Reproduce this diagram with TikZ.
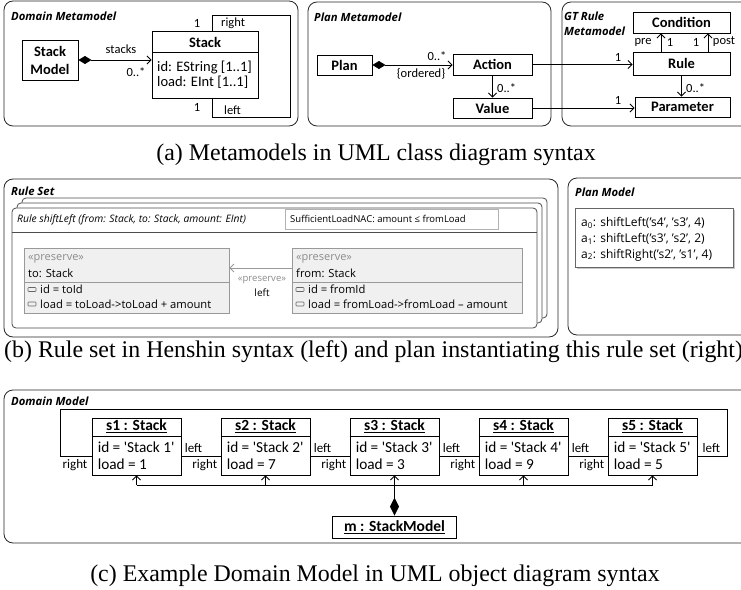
\documentclass[tikz,border=0pt]{standalone}
\usepackage{fontspec}
\setmainfont{Liberation Serif}
\newfontfamily\calfont{Carlito}
\newfontfamily\segfont{Open Sans}
\usetikzlibrary{arrows.meta,calc}

\tikzset{
  fr/.style={draw=black!85, line width=0.8pt, rounded corners=9pt},
  cls/.style={draw=black, line width=0.9pt, fill=white, inner sep=0pt},
  chead/.style={font=\calfont\bfseries\fontsize{14.5}{18}\selectfont},
  cattr/.style={font=\calfont\fontsize{14.5}{16}\selectfont, anchor=west, inner sep=0pt},
  tg/.style={font=\calfont\fontsize{12.5}{14}\selectfont, inner sep=0pt},
  otg/.style={font=\calfont\fontsize{13}{15}\selectfont, inner sep=3pt},
  ohead/.style={font=\calfont\bfseries\fontsize{15.5}{17}\selectfont},
  oattr/.style={font=\calfont\fontsize{15.3}{17}\selectfont, anchor=west, inner sep=0pt},
  ttl/.style={font=\segfont\bfseries\itshape\fontsize{11.3}{13}\selectfont, anchor=west, inner sep=0pt},
  assoc/.style={line width=0.8pt, -{Straight Barb[length=4pt,width=8pt]}},
  comp/.style={line width=0.8pt, {Diamond[length=13pt,width=8pt]}-{Straight Barb[length=4pt,width=8pt]}},
  capt/.style={font=\fontsize{23.9}{26}\selectfont, inner sep=0pt},
  rf/.style={draw=black!70, fill=white, rounded corners=4pt, line width=0.8pt},
  hobj/.style={draw=black!40, fill=black!6, line width=0.8pt, inner sep=0pt},
  htxt/.style={font=\segfont\fontsize{11.2}{13}\selectfont, anchor=west, inner sep=0pt},
  hster/.style={font=\segfont\fontsize{11}{13}\selectfont, text=black!45, anchor=west, inner sep=0pt},
  esmall/.style={font=\segfont\fontsize{9.5}{11}\selectfont, inner sep=0pt},
}

\begin{document}
\begin{tikzpicture}[x=1pt,y=-1pt]
\useasboundingbox (0,0) rectangle (741,589);
\clip (0,0) rectangle (741,589);

% ---------- (a) metamodels ----------
\draw[fr] (4,1) rectangle (298,126);
\node[ttl] at (11,16) {Domain Metamodel};
\node[cls, minimum width=56pt, minimum height=40pt, chead, align=center] (sm) at (50,60) {Stack\\Model};
\node[cls, minimum width=106pt, minimum height=67pt] (stack) at (205,64.5) {};
\draw[line width=0.9pt] (152,52) -- (258,52);
\node[chead] at (205,42) {Stack};
\node[cattr] at (157,68) {id: EString [1..1]};
\node[cattr] at (157,82) {load: EInt [1..1]};
\coordinate (lp) at (212,0);
\draw[line width=0.8pt] (stack.north -| lp) |- (290,15) -- (290,117) -| (stack.south -| lp);
\node[tg] at (197,23) {1};
\node[tg, anchor=west] at (221,23) {right};
\node[tg] at (197,107) {1};
\node[tg, anchor=west] at (224,110) {left};
\draw[comp] (sm.east) -- (sm.east -| stack.west);
\node[tg] at (121,49) {stacks};
\node[tg] at (136,72) {0..*};

\draw[fr] (308,2) rectangle (551,126);
\node[ttl] at (314,17) {Plan Metamodel};
\node[cls, minimum width=55pt, minimum height=20pt, chead] (plan) at (344.5,65) {Plan};
\node[cls, minimum width=79pt, minimum height=21pt, chead] (action) at (492.5,64.5) {Action};
\node[cls, minimum width=79pt, minimum height=20pt, chead] (value) at (492.5,108) {Value};
\draw[comp] (plan.east) -- (plan.east -| action.west);
\node[tg] at (437,56) {0..*};
\node[tg] at (421,74) {\{ordered\}};
\draw[assoc] (action.south) -- (value.north);
\node[tg, anchor=west] at (497,88) {0..*};

\draw[fr] (562,2) rectangle (760,126);
\node[ttl] at (564,16) {GT Rule};
\node[ttl] at (564,31) {Metamodel};
\node[cls, minimum width=97pt, minimum height=21pt, chead] (cond) at (681.5,22.5) {Condition};
\node[cls, minimum width=97pt, minimum height=23pt, chead] (rule) at (681.5,63.5) {Rule};
\node[cls, minimum width=95pt, minimum height=20pt, chead] (param) at (682.5,107) {Parameter};
\draw[assoc] (action.east) -- (action.east -| rule.west);
\draw[assoc] (value.east) -- (value.east -| param.west);
\node[tg] at (618,57) {1};
\node[tg] at (618,100) {1};
\coordinate (pa) at (661,0);
\coordinate (pb) at (708,0);
\draw[assoc] (rule.north -| pa) -- (cond.south -| pa);
\draw[assoc] (rule.north -| pb) -- (cond.south -| pb);
\node[tg] at (643,42) {pre};
\node[tg] at (670,42) {1};
\node[tg] at (696,42) {1};
\node[tg] at (724,42) {post};
\draw[assoc] (rule.south) -- (rule.south |- param.north);
\node[tg, anchor=west] at (686,88) {0..*};

\node[capt] at (376,155) {(a) Metamodels in UML class diagram syntax};

% ---------- (b) rule set and plan ----------
\draw[fr] (4,179) rectangle (558,337);
\node[ttl] at (11,191) {Rule Set};
\draw[rf] (22,198) rectangle (547,318);
\draw[rf] (17,203) rectangle (542,323);
\node[rf, minimum width=525pt, minimum height=120pt] (shl) at (274.5,268) {};
\draw[black!70, line width=0.8pt] (12,232) -- (537,232);
\node[anchor=west, inner sep=0pt, font=\segfont\itshape\fontsize{10.3}{12}\selectfont] at (17,220)
  {Rule shiftLeft (from: Stack, to: Stack, amount: EInt)};
\node[draw=black!30, fill=white, line width=0.8pt, minimum width=213pt, minimum height=20pt] (nac) at (391.5,219) {};
\node[esmall, anchor=west] at (290,219) {SufficientLoadNAC: amount ≤ fromLoad};

\node[hobj, minimum width=205pt, minimum height=65pt] (to) at (126.5,280.5) {};
\draw[black!40, line width=0.8pt] (24,282) -- (229,282);
\node[hster] at (28,259) {«preserve»};
\node[htxt] at (28,273) {to: Stack};
\draw[black!60, rounded corners=0.8pt, line width=0.6pt] (28,287.5) rectangle (36,291.5);
\node[htxt] at (40,289.5) {id = toId};
\draw[black!60, rounded corners=0.8pt, line width=0.6pt] (28,302) rectangle (36,306);
\node[htxt] at (40,304) {load = toLoad->toLoad + amount};

\node[hobj, minimum width=230pt, minimum height=65pt] (from) at (407,280.5) {};
\draw[black!40, line width=0.8pt] (292,282) -- (522,282);
\node[hster] at (296,259) {«preserve»};
\node[htxt] at (296,273) {from: Stack};
\draw[black!60, rounded corners=0.8pt, line width=0.6pt] (296,287.5) rectangle (304,291.5);
\node[htxt] at (308,289.5) {id = fromId};
\draw[black!60, rounded corners=0.8pt, line width=0.6pt] (296,302) rectangle (304,306);
\node[htxt] at (308,304) {load = fromLoad->fromLoad – amount};

\coordinate (ly) at (0,268);
\draw[black!40, line width=0.8pt, -{Straight Barb[length=4pt,width=8pt]}] (from.west |- ly) -- (to.east |- ly);
\node[esmall, text=black!45] at (262,280) {«preserve»};
\node[esmall, font=\segfont\fontsize{10}{12}\selectfont] at (262,293) {left};

\draw[fr] (568,178) rectangle (760,335);
\node[ttl] at (575,192) {Plan Model};
\fill[black!22] (577,210) rectangle (735,269);
\node[draw=black!60, fill=white, line width=0.8pt, minimum width=158pt, minimum height=59pt] (plm) at (654,237.5) {};
\node[htxt, font=\segfont\fontsize{12}{14}\selectfont] at (581,223) {a\textsubscript{0}: shiftLeft(’s4’, ’s3’, 4)};
\node[htxt, font=\segfont\fontsize{12}{14}\selectfont] at (581,239) {a\textsubscript{1}: shiftLeft(’s3’, ’s2’, 2)};
\node[htxt, font=\segfont\fontsize{12}{14}\selectfont] at (581,255) {a\textsubscript{2}: shiftRight(’s2’, ’s1’, 4)};

\node[capt, anchor=west] at (4,352) {(b) Rule set in Henshin syntax (left) and plan instantiating this rule set (right)};

% ---------- (c) domain model ----------
\draw[fr] (4,390) rectangle (760,543);
\node[ttl] at (11,401) {Domain Model};
\foreach \i/\l in {1/1, 2/7, 3/3, 4/9, 5/5} {
  \pgfmathsetmacro\cx{136.5+129*(\i-1)}
  \node[cls, minimum width=89pt, minimum height=57pt] (s\i) at (\cx,446.5) {};
  \draw[line width=0.9pt] ($(s\i.north west)+(0,19)$) -- ($(s\i.north east)+(0,19)$);
  \node[ohead] at ($(s\i.north)+(0,9)$) {\underline{s\i\ : Stack}};
  \node[oattr] at ($(s\i.north west)+(6,30)$) {id = \textquotesingle Stack \i\textquotesingle};
  \node[oattr] at ($(s\i.north west)+(6,47)$) {load = \l};
}
\coordinate (lky) at (0,456);
\foreach \i/\j in {1/2, 2/3, 3/4, 4/5} {
  \draw[line width=0.8pt] (s\i.east |- lky) -- (s\j.west |- lky)
    node[otg, pos=0, anchor=south west] {left}
    node[otg, pos=1, anchor=north east] {right};
}
\coordinate (lx) at (60,0);
\coordinate (rx) at (727,0);
\coordinate (ty) at (0,409);
\draw[line width=0.8pt] (s5.east |- lky) -| (rx |- ty) -| (lx |- lky) -- (s1.west |- lky);
\node[otg, anchor=south west, xshift=2pt] at (s5.east |- lky) {left};
\node[otg, anchor=north east, xshift=-1pt] at (s1.west |- lky) {right};

\coordinate (by) at (0,485);
\draw[line width=0.8pt] (s1.south |- by) -- (s5.south |- by);
\foreach \i in {1,2,4,5} {
  \draw[assoc] (s\i.south |- by) -- (s\i.south);
}
\node[cls, minimum width=124pt, minimum height=22pt, ohead] (m) at (394.5,527) {\underline{m : StackModel}};
\draw[line width=0.8pt, {Diamond[length=18pt,width=9pt]}-{Straight Barb[length=4pt,width=8pt]}] (m.north) -- (s3.south);

\node[capt] at (375,576) {(c) Example Domain Model in UML object diagram syntax};
\end{tikzpicture}
\end{document}
